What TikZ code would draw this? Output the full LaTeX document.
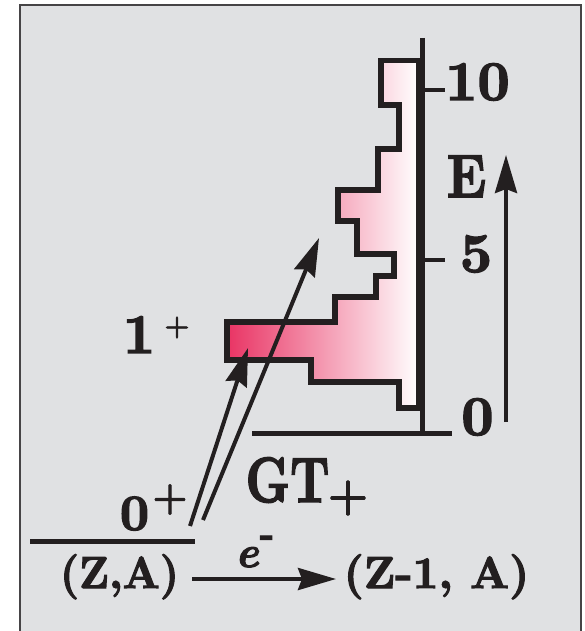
\documentclass[tikz,border=0pt]{standalone}
\usepackage{fontspec}
\setmainfont{lmroman10-regular.otf}[BoldFont=lmroman10-bold.otf, ItalicFont=lmroman10-italic.otf, BoldItalicFont=lmroman10-bolditalic.otf, BoldFeatures={FakeBold=2.5}, BoldItalicFeatures={FakeBold=2.5}]
\usetikzlibrary{arrows.meta}
\definecolor{bg}{RGB}{224,225,227}
\definecolor{ink}{RGB}{35,31,32}
\definecolor{framec}{RGB}{70,68,70}
\definecolor{hpink}{RGB}{233,52,100}
\definecolor{hmid}{RGB}{246,190,198}
\tikzset{
  lbl/.style={inner sep=0pt, outer sep=0pt, text=ink},
  thick line/.style={draw=ink, line width=5pt},
  arr/.style={draw=ink, line width=4pt, -{Stealth[length=38pt, width=22pt, inset=4pt]}},
  plusmark/.style={lbl, anchor=center},
}
\newcommand{\fsz}[1]{\bfseries\fontsize{#1}{#1}\selectfont}
\begin{document}
\begin{tikzpicture}[x=1pt, y=-1pt, line join=miter, line cap=butt]
\useasboundingbox (0,0) rectangle (584,631);
% frame
\begin{scope}
  \clip (0,0) rectangle (584,631);
  \draw[draw=framec, line width=1.3pt, fill=bg] (20,5) rectangle (581,660);
\end{scope}
% histogram
\draw[draw=ink, line width=5.5pt, left color=hpink, middle color=hmid, right color=white]
  (381,60.5) -- (419,60.5) -- (419,408) -- (399,408) -- (399,382) -- (311,382)
  -- (311,360) -- (227,360) -- (227,322) -- (335,322) -- (335,297) -- (376,297)
  -- (376,276) -- (394,276) -- (394,254) -- (357,254) -- (357,221) -- (338,221)
  -- (338,190) -- (378,190) -- (378,149) -- (399,149) -- (399,105) -- (381,105) -- cycle;
% axis
\coordinate (axtop) at (422,38);
\coordinate (axbot) at (422,435.5);
\coordinate (blL) at (252,433);
\coordinate (blR) at (452,433);
\coordinate (t10a) at (420,90);
\coordinate (t10b) at (445,90);
\coordinate (t5a) at (420,260);
\coordinate (t5b) at (445,260);
\draw[thick line] (axtop) -- (axbot);
\draw[thick line] (blL) -- (blR);
\draw[thick line, line width=4.5pt] (t10a) -- (t10b);
\draw[thick line, line width=4.5pt] (t5a) -- (t5b);
% ground level
\coordinate (g0L) at (30,541);
\coordinate (g0R) at (195,541);
\draw[thick line] (g0L) -- (g0R);
% labels
\node[lbl, anchor=base, font=\fsz{56}] (n10) at (477.5,100) {10};
\node[lbl, anchor=base, font=\fsz{56}] (n5) at (476,272) {5};
\node[lbl, anchor=base, font=\fsz{56}] (n0) at (477.5,435) {0};
\node[lbl, anchor=base, font=\fsz{61}] (nE) at (466.5,197) {\scalebox{0.86}[1]{E}};
\node[lbl, anchor=base, font=\fsz{64}] (nGT) at (287.5,502) {\scalebox{0.77}[1]{GT}};
\node[plusmark, font=\fsz{45}] (pGT) at (348,498) {+};
\node[lbl, anchor=base, font=\fsz{56}] (n1) at (139,353) {1};
\node[plusmark, font=\fsz{28}] (p1) at (177,327.5) {+};
\node[lbl, anchor=base, font=\fsz{51}] (nzero) at (134.5,530) {0};
\node[plusmark, font=\fsz{39}] (p0) at (170,499.5) {+};
\node[lbl, anchor=base, font=\fsz{45}] (ZA) at (119.5,588) {\scalebox{0.95}[1]{(Z,A)}};
\node[lbl, anchor=base, font=\fsz{45}] (ZA2) at (436.5,588) {(Z-1, A)};
\node[lbl, anchor=base, font=\fsz{44}\itshape] (ne) at (247,567) {e};
\node[plusmark, font=\fsz{38}] (nminus) at (267,541) {-};
% arrows
\coordinate (a1s) at (190,526);
\coordinate (a1e) at (248,348);
\coordinate (a2s) at (203,520);
\coordinate (a2e) at (319,238);
\coordinate (eAs) at (506,422);
\coordinate (eAe) at (506,155);
\coordinate (ecs) at (192,579);
\coordinate (ece) at (336,579);
\draw[arr] (a1s) -- (a1e);
\draw[arr] (a2s) -- (a2e);
\draw[arr] (eAs) -- (eAe);
\draw[arr] (ecs) -- (ece);
\end{tikzpicture}
\end{document}
